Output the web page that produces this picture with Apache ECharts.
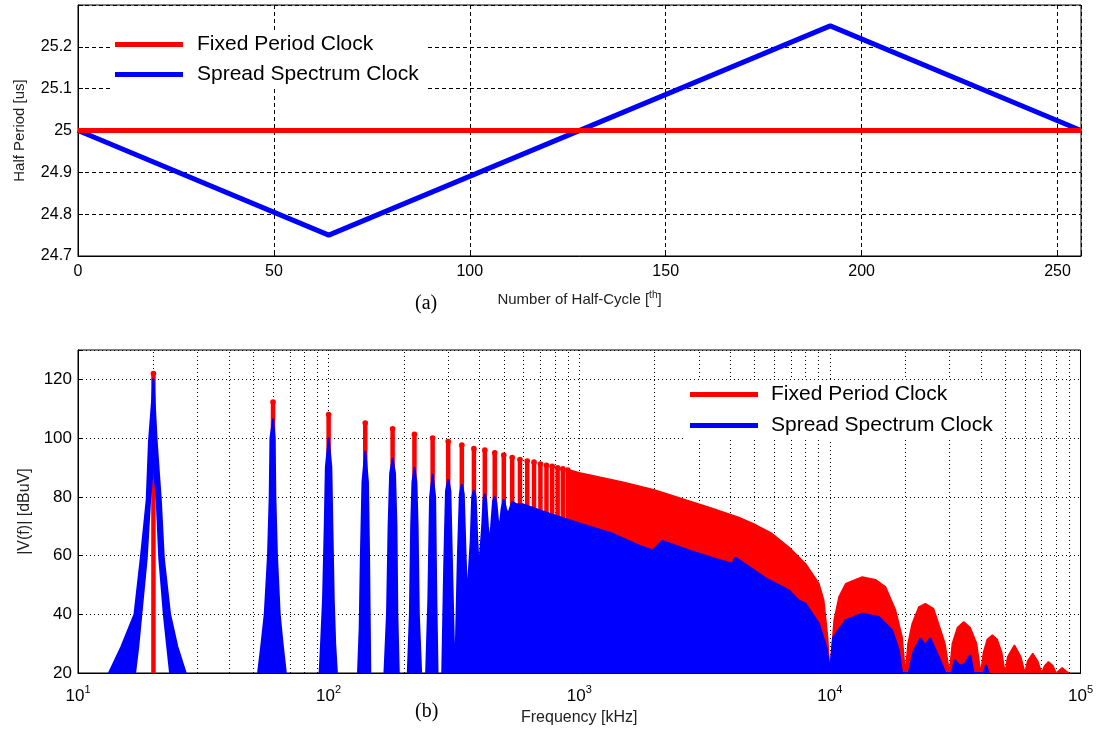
<!DOCTYPE html>
<html>
<head>
<meta charset="utf-8">
<script src="https://cdn.jsdelivr.net/npm/echarts@6.0.0/dist/echarts.min.js"></script>
<style>
  html, body { margin: 0; background: #fff; }
  #chart { width: 1096px; height: 731px; }
</style>
</head>
<body>
<div id="chart"></div>
<script>
var FONT = 'Liberation Sans, Arial, sans-serif';

// (a) half period of each half-cycle [us]
var halfCycleFixed = [[0, 25], [256, 25]];
var halfCycleSpread = [[0, 25], [64, 24.75], [192, 25.25], [256, 25]];
var periodTicks = [24.7, 24.8, 24.9, 25, 25.1, 25.2];
var cycleTicks = [0, 50, 100, 150, 200, 250];

// (b) spectrum, fixed period clock: odd harmonics [kHz] and their peaks [dBuV]
var fixedFreq = [20, 60, 100, 140, 180, 220, 260, 300, 340, 380, 420, 460, 500,
  540, 580, 620, 660, 700, 740, 780, 820, 860, 900];
var fixedPeak = [122, 112.3, 108, 105.1, 103.2, 101.3, 100, 98.8, 97.6, 96.4, 95.9, 95, 94.2,
  93.4, 92.7, 92.2, 91.8, 91.2, 90.7, 90.4, 89.9, 89.5, 89.1];
// dense part of the fixed clock spectrum (envelope)
var fixedBand = [[905, 89.2], [1000, 88.2], [1500, 85], [2000, 82.3], [2742, 78.6], [3400, 76],
  [4335, 73], [5100, 70.3], [5875, 67.5], [6870, 62.8], [8000, 57.2], [9040, 50.5], [9460, 44.7],
  [9800, 32], [10000, 20], [10400, 38], [10870, 45.9], [11560, 50.4], [13460, 52.7],
  [15200, 51.8], [16680, 49.3], [18280, 41.4], [19420, 32.3], [20000, 20],
  [20500, 30], [21300, 36.8], [22650, 42.5], [24050, 43.6], [25930, 41.9], [27150, 36.8], [28800, 30], [30000, 20],
  [30800, 30], [32300, 35.5], [34200, 37.4], [36300, 35.5], [38500, 30], [40000, 20],
  [41000, 27], [42500, 31.5], [44500, 32.9], [46500, 31.5], [48500, 27], [50000, 20],
  [51200, 25.5], [54500, 29.5], [57800, 25.5], [60000, 20],
  [61500, 24], [64500, 26.7], [67500, 24], [70000, 20],
  [72000, 22.5], [74500, 23.8], [77500, 22.5], [80000, 20],
  [84500, 21.8], [88000, 20.5], [90000, 20]];

// spread spectrum clock: outlines of the separate low harmonic lobes [kHz, dBuV]
var blue20Left = [[13.3, 20], [14.9, 29], [16.8, 40], [17.8, 59], [18.8, 79], [19.2, 99], [19.8, 114], [20, 120],
  [20, 92], [19.4, 79], [18.8, 59], [17.9, 40], [17.4, 29], [16.9, 20]];
var blue20Right = [[20, 120], [20.6, 99], [21.4, 79], [22.0, 59], [23.3, 40], [24.9, 29], [26.9, 20],
  [23.3, 20], [22.7, 29], [22.0, 40], [21.1, 59], [20.6, 79], [20, 92]];
var blue60 = [[52.3, 20], [54, 30], [55.6, 40], [57.3, 60], [58.2, 80], [58.6, 100], [60, 106.4],
  [60.9, 100], [61.3, 80], [62.2, 60], [63.8, 40], [65.5, 30], [67.5, 20]];
var blue100 = [[92.1, 20], [93.3, 30], [95, 45], [96.5, 70], [97.5, 90], [100, 99.9],
  [102.5, 90], [103.5, 70], [104.8, 45], [106.2, 30], [107.9, 20]];
var blue140 = [[131, 20], [133, 35], [134.5, 60], [136.5, 85], [140, 95.4],
  [143.5, 85], [145, 60], [146, 35], [146.6, 20]];
var blue180 = [[167, 20], [171, 40], [173.5, 70], [176, 88], [180, 93],
  [184, 88], [186.5, 70], [188, 40], [190.5, 20]];
var blue220 = [[207, 20], [211, 40], [213.5, 70], [216, 85], [220, 89.8],
  [224, 85], [226.5, 70], [229, 40], [234, 20]];
var blue260 = [[245, 20], [250, 45], [254, 80], [260, 87.5], [266, 80], [269, 45], [272, 20]];
// dense part of the spread spectrum
var spreadBand = [[284, 20], [289, 55], [294, 82], [300, 86], [306, 82], [311, 55], [316, 30], [322, 30],
  [328, 60], [334, 81], [340, 84.3], [346, 81], [352, 60], [357, 45], [363, 45], [369, 65], [374, 80],
  [380, 82.3], [386, 80], [392, 65], [398, 55], [403, 55], [410, 70], [415, 79], [420, 81], [425, 79],
  [432, 70], [440, 64], [447, 72], [453, 78.5], [460, 80.1], [467, 78], [474, 72], [482, 70], [490, 76],
  [500, 79.2], [510, 76], [520, 74], [540, 78.4], [560, 77.5], [594, 77.5], [736, 74.7], [1000, 70.9],
  [1360, 67.4], [1734, 63.4], [1960, 61.7], [2148, 65], [2742, 61.7], [3500, 58.8], [4080, 57.2],
  [4200, 59.3], [5550, 52.2], [6870, 48.1], [7500, 44.7], [8000, 43.6], [9040, 36.8], [9750, 27.8], [10000, 20],
  [10300, 32], [11560, 38], [13460, 40.2], [15680, 39.1], [17700, 34.6], [18830, 27.8], [19400, 20],
  [20650, 20], [21500, 27], [22960, 31.8], [24000, 29.5], [25170, 31.8], [27000, 26], [28900, 20],
  [30700, 20], [31500, 24.4], [33000, 22.5], [34500, 23], [36300, 26.1], [37500, 20],
  [41100, 20], [42000, 22.7], [43000, 20]];
var spectrumTicks = [20, 40, 60, 80, 100, 120];
var decadeTicks = [10, 100, 1000, 10000, 100000];

var blueLobes = [blue20Left, blue20Right, blue60, blue100, blue140, blue180, blue220, blue260];

// dotted log grid between decades (2..9 x decade)
var minorGrid = [];
for (var d = 0; d < decadeTicks.length - 1; d++) {
  for (var k = 2; k <= 9; k++) minorGrid.push({ xAxis: decadeTicks[d] * k });
}

var chart = echarts.init(document.getElementById('chart'));

var tickFont = { color: '#000', fontFamily: FONT, fontSize: 16 };
var dashed = { color: '#000', type: [4, 3], width: 1 };
var dotted = { color: '#000', type: [1, 3], width: 1 };

chart.setOption({
  animation: false,
  backgroundColor: '#fff',
  grid: [
    { left: 78, right: 15, top: 5, height: 251, show: true, borderColor: '#000', borderWidth: 1 },
    { left: 78, right: 14, top: 350, height: 323, show: true, borderColor: '#000', borderWidth: 1 }
  ],
  legend: [{
    data: [{ name: 'Fixed Period Clock', itemStyle: { color: '#f00' } },
      { name: 'Spread Spectrum Clock', itemStyle: { color: '#00f' } }],
    orient: 'vertical', left: 110, top: 30, icon: 'rect',
    itemWidth: 68, itemHeight: 5, itemGap: 9,
    backgroundColor: '#fff', padding: [4, 8, 4, 5],
    textStyle: { fontSize: 21, color: '#000', fontFamily: FONT, padding: [0, 0, 0, 9] }
  }, {
    data: [{ name: 'Fixed Period Clock', itemStyle: { color: '#f00' } },
      { name: 'Spread Spectrum Clock', itemStyle: { color: '#00f' } }],
    orient: 'vertical', left: 685, top: 380, icon: 'rect',
    itemWidth: 68, itemHeight: 5, itemGap: 10,
    backgroundColor: '#fff', padding: [4, 8, 4, 5],
    textStyle: { fontSize: 21, color: '#000', fontFamily: FONT, padding: [0, 0, 0, 8] }
  }],
  graphic: [
    { type: 'text', left: 415, top: 294, style: { text: '(a)', font: '20px "Liberation Serif", serif', fill: '#000' } },
    { type: 'text', left: 415, top: 702, style: { text: '(b)', font: '20px "Liberation Serif", serif', fill: '#000' } }
  ],
  xAxis: [{
    gridIndex: 0, type: 'value', min: 0, max: 256, interval: 50,
    name: 'Number of Half-Cycle [{s|th}]', nameLocation: 'middle', nameGap: 34,
    nameTextStyle: { fontSize: 15, color: '#222', fontFamily: FONT,
      rich: { s: { fontSize: 10, color: '#222', fontFamily: FONT, padding: [0, 0, 9, 0] } } },
    axisLine: { lineStyle: { color: '#000' } },
    axisTick: { inside: true, length: 5, lineStyle: { color: '#000' } },
    axisLabel: Object.assign({ margin: 8, formatter: function (v) {
      return cycleTicks.indexOf(Math.round(v)) >= 0 ? String(Math.round(v)) : '';
    } }, tickFont),
    splitLine: { show: true, lineStyle: dashed }
  }, {
    gridIndex: 1, type: 'log', logBase: 10, min: 10, max: 100000,
    name: 'Frequency [kHz]', nameLocation: 'middle', nameGap: 37,
    nameTextStyle: { fontSize: 16, color: '#222', fontFamily: FONT },
    axisLine: { lineStyle: { color: '#000' } },
    axisTick: { inside: true, length: 6, lineStyle: { color: '#000' } },
    axisLabel: {
      margin: 11,
      formatter: function (v) { return '{b|10}{s|' + Math.round(Math.log10(v)) + '}'; },
      rich: {
        b: { fontSize: 17, color: '#000', fontFamily: FONT, verticalAlign: 'bottom' },
        s: { fontSize: 11, color: '#000', fontFamily: FONT, verticalAlign: 'bottom', padding: [0, 0, 10, 0] }
      }
    },
    splitLine: { show: true, lineStyle: dotted }
  }],
  yAxis: [{
    gridIndex: 0, type: 'value', min: 24.7, max: 25.3, interval: 0.1,
    name: 'Half Period [us]', nameLocation: 'middle', nameGap: 51,
    nameTextStyle: { fontSize: 15, color: '#222', fontFamily: FONT },
    axisLine: { show: true, lineStyle: { color: '#000' } },
    axisTick: { show: true, inside: true, length: 5, lineStyle: { color: '#000' } },
    axisLabel: Object.assign({ margin: 6, formatter: function (v) {
      var r = Math.round(v * 10) / 10;
      return periodTicks.indexOf(r) >= 0 ? String(r) : '';
    } }, tickFont),
    splitLine: { show: true, lineStyle: dashed }
  }, {
    gridIndex: 1, type: 'value', min: 20, max: 130, interval: 20,
    name: '|V(f)| [dBuV]', nameLocation: 'middle', nameGap: 45,
    nameTextStyle: { fontSize: 16, color: '#222', fontFamily: FONT },
    axisLine: { show: true, lineStyle: { color: '#000' } },
    axisTick: { show: true, inside: true, length: 5, lineStyle: { color: '#000' } },
    axisLabel: Object.assign({ margin: 6, formatter: function (v) {
      return spectrumTicks.indexOf(Math.round(v)) >= 0 ? String(Math.round(v)) : '';
    } }, tickFont, { fontSize: 17 }),
    splitLine: { show: true, lineStyle: dotted }
  }],
  series: [
    {
      name: 'Spread Spectrum Clock', type: 'line', xAxisIndex: 0, yAxisIndex: 0,
      data: halfCycleSpread, symbol: 'none',
      lineStyle: { color: '#00f', width: 5 }, itemStyle: { color: '#00f' }, z: 3
    },
    {
      name: 'Fixed Period Clock', type: 'line', xAxisIndex: 0, yAxisIndex: 0,
      data: halfCycleFixed, symbol: 'none',
      lineStyle: { color: '#f00', width: 5 }, itemStyle: { color: '#f00' }, z: 4
    },
    {
      name: 'Fixed Period Clock', type: 'custom', xAxisIndex: 1, yAxisIndex: 1,
      itemStyle: { color: '#f00' }, clip: true,
      data: fixedFreq.map(function (f, i) { return [f, fixedPeak[i]]; }),
      renderItem: function (params, api) {
        var top = api.coord([api.value(0), api.value(1)]);
        var base = api.coord([api.value(0), 20]);
        return { type: 'group', children: [
          { type: 'line', shape: { x1: top[0], y1: top[1], x2: base[0], y2: base[1] },
            style: { stroke: '#f00', lineWidth: 4.5 } },
          { type: 'circle', shape: { cx: top[0], cy: top[1], r: 2.8 }, style: { fill: '#f00' } }
        ] };
      },
      markLine: {
        silent: true, z: 1, symbol: ['none', 'none'], label: { show: false },
        lineStyle: dotted, data: minorGrid
      }
    },
    {
      name: 'Fixed Period Clock', type: 'line', xAxisIndex: 1, yAxisIndex: 1,
      data: fixedBand, symbol: 'none',
      lineStyle: { color: '#f00', width: 1.5 }, itemStyle: { color: '#f00' },
      areaStyle: { color: '#f00', opacity: 1, origin: 'start' }
    },
    {
      name: 'Spread Spectrum Clock', type: 'custom', xAxisIndex: 1, yAxisIndex: 1,
      itemStyle: { color: '#00f' }, clip: true,
      data: blueLobes.map(function (lobe, i) {
        var peak = lobe.reduce(function (a, b) { return b[1] > a[1] ? b : a; });
        return [peak[0], peak[1], i];
      }),
      renderItem: function (params, api) {
        var lobe = blueLobes[api.value(2)];
        return {
          type: 'polygon',
          shape: { points: lobe.map(function (p) { return api.coord(p); }) },
          style: { fill: '#00f', stroke: '#00f', lineWidth: 2, lineJoin: 'round' }
        };
      }
    },
    {
      name: 'Spread Spectrum Clock', type: 'line', xAxisIndex: 1, yAxisIndex: 1,
      data: spreadBand, symbol: 'none',
      lineStyle: { color: '#00f', width: 2 }, itemStyle: { color: '#00f' },
      areaStyle: { color: '#00f', opacity: 1, origin: 'start' }
    }
  ]
});
</script>
</body>
</html>
